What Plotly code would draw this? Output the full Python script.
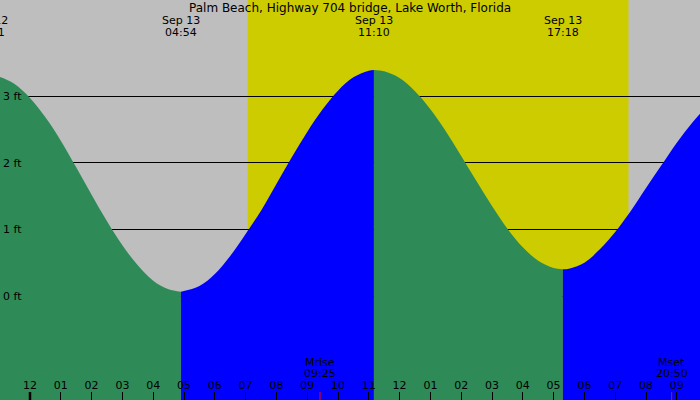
import pandas as pd
import plotly.graph_objects as go

title = "Palm Beach, Highway 704 bridge, Lake Worth, Florida"

# tide curve (feet)
tide_times = [
    "2024-09-12 22:41", "2024-09-12 23:00", "2024-09-12 23:30", "2024-09-13 00:00",
    "2024-09-13 00:30", "2024-09-13 01:00", "2024-09-13 01:30", "2024-09-13 02:00",
    "2024-09-13 02:30", "2024-09-13 03:00", "2024-09-13 03:30", "2024-09-13 04:00",
    "2024-09-13 04:30", "2024-09-13 04:54", "2024-09-13 05:30", "2024-09-13 06:00",
    "2024-09-13 06:30", "2024-09-13 07:00", "2024-09-13 07:30", "2024-09-13 08:00",
    "2024-09-13 08:30", "2024-09-13 09:00", "2024-09-13 09:30", "2024-09-13 10:00",
    "2024-09-13 10:30", "2024-09-13 11:00", "2024-09-13 11:10", "2024-09-13 11:30",
    "2024-09-13 12:00", "2024-09-13 12:30", "2024-09-13 13:00", "2024-09-13 13:30",
    "2024-09-13 14:00", "2024-09-13 14:30", "2024-09-13 15:00", "2024-09-13 15:30",
    "2024-09-13 16:00", "2024-09-13 16:30", "2024-09-13 17:00", "2024-09-13 17:18",
    "2024-09-13 17:30", "2024-09-13 18:00", "2024-09-13 18:30", "2024-09-13 19:00",
    "2024-09-13 19:30", "2024-09-13 20:00", "2024-09-13 20:30", "2024-09-13 21:00",
    "2024-09-13 21:30", "2024-09-13 22:00",
]
tide_heights = [
    3.31, 3.29, 3.18, 2.97,
    2.68, 2.33, 1.93, 1.52,
    1.12, 0.76, 0.46, 0.23,
    0.10, 0.065, 0.15, 0.33,
    0.60, 0.93, 1.28, 1.68,
    2.08, 2.46, 2.80, 3.08,
    3.28, 3.38, 3.39, 3.37,
    3.27, 3.07, 2.80, 2.47,
    2.10, 1.72, 1.35, 1.01,
    0.73, 0.53, 0.42, 0.40,
    0.41, 0.50, 0.70, 0.96,
    1.27, 1.62, 1.96, 2.30,
    2.60, 2.86,
]

# high / low water times shown across the top
extreme_times = ["2024-09-12 22:41", "2024-09-13 04:54", "2024-09-13 11:10", "2024-09-13 17:18"]

sunrise = "2024-09-13 07:04"
sunset = "2024-09-13 19:26"
moon_events = ["Mrise", "Mset"]
moon_times = ["2024-09-13 09:25", "2024-09-13 20:50"]
day_change = "2024-09-13 00:00"

feet_ticks = [0, 1, 2, 3]
feet_labels = ["0 ft", "1 ft", "2 ft", "3 ft"]

view_start = "2024-09-12 23:01:34"
view_end = "2024-09-13 21:45:12"
y_range = [-1.56, 4.44]

GREEN = "#2E8B57"
BLUE = "#0000FF"
GREY = "#BEBEBE"
YELLOW = "#CCCC00"
FONT = dict(family="DejaVu Sans", size=11, color="black")

df = pd.DataFrame({"time": pd.to_datetime(tide_times), "ft": tide_heights})
ext = pd.to_datetime(extreme_times)
t0, t1 = pd.Timestamp(view_start), pd.Timestamp(view_end)


def to_paper(ts):
    return (pd.Timestamp(ts) - t0) / (t1 - t0)


fig = go.Figure()

# one filled piece per rise / fall, split at the high and low waters
bounds = list(ext) + [df["time"].max()]
for a, b in zip(bounds[:-1], bounds[1:]):
    seg = df[(df["time"] >= a) & (df["time"] <= b)]
    colour = GREEN if seg["ft"].iloc[-1] < seg["ft"].iloc[0] else BLUE
    fig.add_trace(go.Scatter(x=seg["time"], y=[y_range[0] - 1] * len(seg),
                             mode="lines", line=dict(width=0), hoverinfo="skip"))
    fig.add_trace(go.Scatter(x=seg["time"], y=seg["ft"], mode="lines",
                             line=dict(width=0, shape="spline", color=colour),
                             fill="tonexty", fillcolor=colour, hoverinfo="skip"))

# daylight band
fig.add_shape(type="rect", xref="x", yref="paper", x0=sunrise, x1=sunset, y0=0, y1=1,
              fillcolor=YELLOW, line=dict(width=0), layer="below")

# date change and moon ticks on the bottom axis
fig.add_shape(type="line", xref="x", yref="paper", x0=day_change, x1=day_change,
              y0=0, y1=0.02, line=dict(color="black", width=2.5), layer="above")
for name, mt in zip(moon_events, moon_times):
    fig.add_shape(type="line", xref="x", yref="paper", x0=mt, x1=mt, y0=0, y1=0.02,
                  line=dict(color="red", width=1), layer="above")
    ts = pd.Timestamp(mt)
    fig.add_annotation(x=mt, xref="x", yref="paper", y=0, yshift=38, text=name,
                       showarrow=False, font=FONT, xanchor="center", yanchor="middle")
    fig.add_annotation(x=mt, xref="x", yref="paper", y=0, yshift=27,
                       text=ts.strftime("%H:%M"), showarrow=False, font=FONT,
                       xanchor="center", yanchor="middle")

# high / low labels along the top
for ts in ext:
    xp = to_paper(ts)
    fig.add_annotation(x=xp, xref="paper", yref="paper", y=1, yshift=-20,
                       text=ts.strftime("%b %d"), showarrow=False, font=FONT,
                       xanchor="center", yanchor="middle")
    fig.add_annotation(x=xp, xref="paper", yref="paper", y=1, yshift=-32,
                       text=ts.strftime("%H:%M"), showarrow=False, font=FONT,
                       xanchor="center", yanchor="middle")

fig.add_annotation(x=0.5, xref="paper", yref="paper", y=1, yshift=-8, text=title,
                   showarrow=False, font=dict(FONT, size=12), xanchor="center",
                   yanchor="middle")

fig.update_layout(
    width=700, height=400,
    margin=dict(l=0, r=0, t=0, b=0),
    plot_bgcolor=GREY, paper_bgcolor=GREY,
    showlegend=False, font=FONT,
)
fig.update_xaxes(
    type="date", range=[view_start, view_end],
    tickformat="%I", dtick=3600000, tick0=day_change,
    ticks="inside", ticklen=8, tickcolor="black", tickwidth=1,
    ticklabelposition="inside", showgrid=False, zeroline=False, showline=False,
    tickfont=FONT,
)
fig.update_yaxes(
    range=y_range, tickvals=feet_ticks, ticktext=feet_labels,
    ticks="", ticklabelposition="inside", showgrid=True, gridcolor="black",
    gridwidth=1, zeroline=False, showline=False, tickfont=FONT,
)

# page has a default body margin; drop it so the chart fills the window
fig.write_html("out.html", config={"displayModeBar": False},
               post_script="document.body.style.margin='0';")
